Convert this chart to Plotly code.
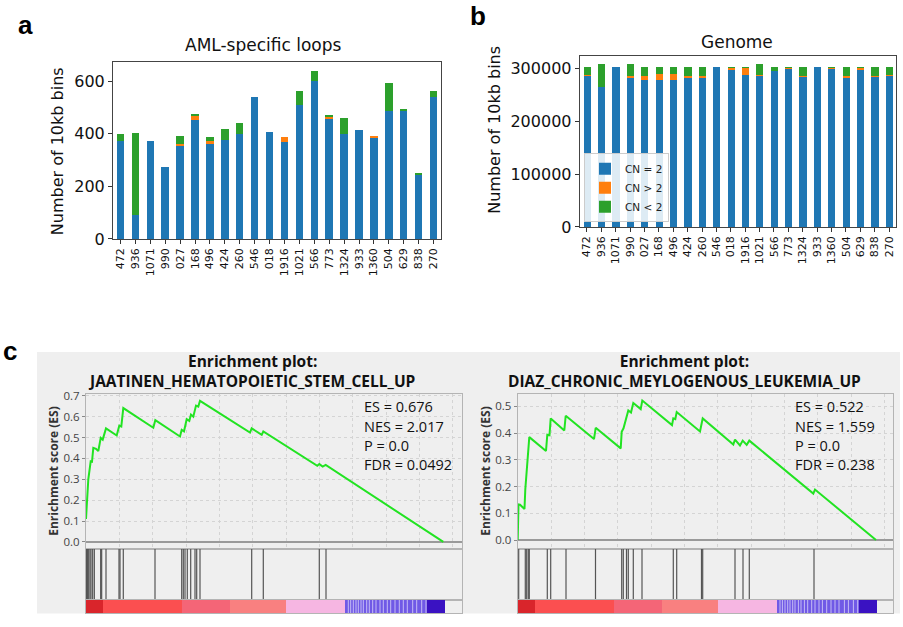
import plotly.graph_objects as go

W, H = 903, 627


def px(x):
    return x / W


def py(y):
    return 1 - y / H


# ---------------- data: panels a / b ----------------
samples = ["472", "936", "1071", "990", "027", "168", "496", "424", "260", "546", "018",
           "1916", "1021", "566", "773", "1324", "933", "1360", "504", "629", "838", "270"]

loops_cn_eq2 = [372, 93, 373, 276, 357, 455, 361, 378, 402, 542, 408, 369, 512, 600, 461, 400, 416, 386, 487, 488, 245, 541]
loops_cn_gt2 = [0, 0, 0, 0, 6, 12, 13, 0, 0, 0, 0, 20, 0, 0, 5, 0, 0, 5, 0, 0, 0, 0]
loops_cn_lt2 = [29, 313, 0, 0, 28, 11, 14, 41, 39, 0, 0, 0, 53, 40, 5, 61, 0, 0, 108, 4, 4, 22]

genome_cn_eq2 = [286500, 265600, 303000, 283400, 279000, 279000, 278000, 284000, 284000, 303000, 298800,
                 287700, 287000, 295000, 300600, 284700, 303000, 299400, 284000, 297000, 284700, 286500]
genome_cn_gt2 = [1000, 0, 0, 2600, 7500, 10600, 11600, 2500, 2500, 0, 3000,
                 14100, 600, 0, 1400, 2300, 0, 2400, 3000, 4500, 1800, 1000]
genome_cn_lt2 = [15500, 43000, 0, 22600, 16500, 13400, 13400, 16500, 16500, 0, 1200,
                 1200, 21000, 8000, 1000, 16000, 0, 1200, 16000, 1500, 16500, 15500]

series_names = ["CN = 2", "CN > 2", "CN < 2"]
series_colors = ["#1f77b4", "#ff7f0e", "#2ca02c"]

# ---------------- data: panel c (GSEA) ----------------
left_title = ["Enrichment plot:", "JAATINEN_HEMATOPOIETIC_STEM_CELL_UP"]
left_stats = ["ES = 0.676", "NES = 2.017", "P = 0.0", "FDR = 0.0492"]
left_es_rank = [0, 69, 141, 180, 219, 300, 369, 441, 501, 600, 921, 999, 1059, 1119, 2019, 2079,
                2820, 2871, 2940, 3021, 3099, 3150, 3219, 3300, 3369, 3420, 4920, 4971, 5271, 5319,
                6939, 6999, 7101, 7191, 10719]
left_es_val = [0.11, 0.30, 0.386, 0.384, 0.451, 0.446, 0.435, 0.498, 0.490, 0.544, 0.510, 0.557, 0.553,
               0.641, 0.547, 0.583, 0.505, 0.537, 0.530, 0.588, 0.580, 0.610, 0.600, 0.653, 0.648, 0.676,
               0.524, 0.544, 0.513, 0.529, 0.365, 0.373, 0.361, 0.369, 0.0]
left_hits = [15, 45, 80, 120, 150, 200, 250, 440, 470, 600, 990, 1020, 1119, 2070, 2871, 2919, 2970,
             3039, 3141, 3270, 3321, 3420, 4971, 5319, 6999, 7200]

right_title = ["Enrichment plot:", "DIAZ_CHRONIC_MEYLOGENOUS_LEUKEMIA_UP"]
right_stats = ["ES = 0.522", "NES = 1.559", "P = 0.0", "FDR = 0.238"]
right_es_rank = [0, 24, 69, 204, 228, 270, 318, 348, 849, 888, 954, 990, 1398, 1440, 2289, 2340, 3090,
                 3120, 3174, 3270, 3318, 3399, 3468, 3690, 3738, 4629, 4668, 4728, 4770, 5469, 5550,
                 6468, 6519, 6669, 6750, 6870, 6948, 8868, 8919, 10749]
right_es_val = [0.0, 0.133, 0.132, 0.116, 0.19, 0.26, 0.33, 0.385, 0.333, 0.394, 0.392, 0.455, 0.410,
                0.465, 0.378, 0.420, 0.343, 0.405, 0.418, 0.458, 0.485, 0.477, 0.513, 0.490, 0.522,
                0.430, 0.455, 0.452, 0.479, 0.406, 0.455, 0.357, 0.376, 0.354, 0.372, 0.356, 0.372,
                0.174, 0.189, 0.0]
right_hits = [30, 228, 270, 318, 348, 888, 990, 1449, 2334, 3120, 3168, 3264, 3318, 3468, 3729, 4668,
              4770, 5514, 5550, 6519, 6759, 6948, 8889]

# ranked-list metric colour strip (band edges in rank units, band colours, light separator ranks)
strip_edges = [0, 520, 2870, 4320, 6000, 7770, 10230, 10770]
strip_colors = ["#d9252b", "#fb4f50", "#f46577", "#f98080", "#f6b6e2", "#7059e6", "#3a12c2"]
strip_gaps = [7869, 7941, 8019, 8100, 8169, 8250, 8319, 8421, 8499, 8601, 8700, 8820, 8919, 9039,
              9141, 9270, 9399, 9519, 9639, 9801, 9921, 10071, 10200]

es_ticks = [0.0, 0.1, 0.2, 0.3, 0.4, 0.5, 0.6, 0.7]
es_ticktext = ["0.0", "0.1", "0.2", "0.3", "0.4", "0.5", "0.6", "0.7"]

# ---------------- figure ----------------
fig = go.Figure()
MPL = "DejaVu Sans"
GS = "Open Sans"

# panels a & b
for xa, ya, vals, show in [("x", "y", [loops_cn_eq2, loops_cn_gt2, loops_cn_lt2], False),
                           ("x2", "y2", [genome_cn_eq2, genome_cn_gt2, genome_cn_lt2], True)]:
    for name, col, v in zip(series_names, series_colors, vals):
        fig.add_trace(go.Bar(x=samples, y=v, name=name, marker=dict(color=col, line=dict(width=0)),
                             width=0.5, xaxis=xa, yaxis=ya, showlegend=show, legendgroup=name))


def add_gsea(n0, es_rank, es_val, hits):
    xe, ye = "x%d" % n0, "y%d" % n0
    xh, yh = "x%d" % (n0 + 1), "y%d" % (n0 + 1)
    xs, ys = "x%d" % (n0 + 2), "y%d" % (n0 + 2)
    fig.add_trace(go.Scatter(x=es_rank, y=es_val, mode="lines", line=dict(color="#22e322", width=2),
                             xaxis=xe, yaxis=ye, showlegend=False))
    hx, hy = [], []
    for h in hits:
        hx += [h, h, None]
        hy += [0, 1, None]
    fig.add_trace(go.Scatter(x=hx, y=hy, mode="lines", line=dict(color="#555555", width=1.2),
                             xaxis=xh, yaxis=yh, showlegend=False))
    centers = [(a + b) / 2 for a, b in zip(strip_edges[:-1], strip_edges[1:])]
    widths = [b - a for a, b in zip(strip_edges[:-1], strip_edges[1:])]
    fig.add_trace(go.Bar(x=centers, y=[1] * len(centers), width=widths, base=0,
                         marker=dict(color=strip_colors, line=dict(width=0)),
                         xaxis=xs, yaxis=ys, showlegend=False))
    gx, gy = [], []
    for g in strip_gaps:
        gx += [g, g, None]
        gy += [0, 1, None]
    fig.add_trace(go.Scatter(x=gx, y=gy, mode="lines", line=dict(color="rgba(255,255,255,0.75)", width=0.8),
                             xaxis=xs, yaxis=ys, showlegend=False))


add_gsea(3, left_es_rank, left_es_val, left_hits)
add_gsea(6, right_es_rank, right_es_val, right_hits)

layout = dict(
    width=W, height=H, margin=dict(l=0, r=0, t=0, b=0),
    paper_bgcolor="white", plot_bgcolor="white", barmode="stack", bargap=0,
    showlegend=True,
    legend=dict(x=px(584), y=py(222), xanchor="left", yanchor="bottom",
                bgcolor="rgba(255,255,255,0.85)", bordercolor="#cccccc", borderwidth=1,
                font=dict(family=MPL, size=10.5, color="#222"), tracegroupgap=0,
                itemwidth=30),
)

bar_common = dict(showline=True, mirror=True, linecolor="#444", linewidth=1, ticks="outside",
                  ticklen=4, tickcolor="#333", showgrid=False, zeroline=False)
layout["xaxis"] = dict(domain=[px(113), px(441)], range=[-0.5, 21.5], anchor="y", tickangle=-90,
                       tickfont=dict(family=MPL, size=11, color="#111"), **bar_common)
layout["yaxis"] = dict(domain=[py(239), py(57)], range=[0, 674], anchor="x", tickvals=[0, 200, 400, 600],
                       tickfont=dict(family=MPL, size=16, color="#111"), **bar_common)
layout["xaxis2"] = dict(domain=[px(579.7), px(896.3)], range=[-0.5, 21.5], anchor="y2", tickangle=-90,
                        tickfont=dict(family=MPL, size=11, color="#111"), **bar_common)
layout["yaxis2"] = dict(domain=[py(226.7), py(51)], range=[0, 324000], anchor="x2", dtick=100000,
                        tickformat="d", tickfont=dict(family=MPL, size=16, color="#111"), **bar_common)

frame = "#b4b4b4"


def gsea_axes(n0, x0, x1, xmax, ymin, ymax):
    xr = [0, xmax]
    layout["xaxis%d" % n0] = dict(domain=[px(x0), px(x1)], range=xr, anchor="y%d" % n0,
                                  showticklabels=False, ticks="", showgrid=True, gridcolor="#d4d4d4",
                                  griddash="dot", gridwidth=1, tick0=0, dtick=1000, zeroline=False,
                                  showline=True, mirror=True, linecolor=frame)
    layout["yaxis%d" % n0] = dict(domain=[py(557), py(398)], range=[ymin, ymax], anchor="x%d" % n0,
                                  tickvals=es_ticks, ticktext=es_ticktext, ticks="outside", ticklen=3,
                                  tickcolor="#888", tickfont=dict(family=GS, size=11.5, color="#444"),
                                  showgrid=True, gridcolor="#d4d4d4", griddash="dot", zeroline=True,
                                  zerolinecolor="#9a9a9a", zerolinewidth=1.5, showline=True, mirror=True,
                                  linecolor=frame)
    for k, (b, t) in ((1, (609.5, 557)), (2, (623, 609.5))):
        layout["xaxis%d" % (n0 + k)] = dict(domain=[px(x0), px(x1)], range=xr, anchor="y%d" % (n0 + k),
                                            showticklabels=False, ticks="", showgrid=False, zeroline=False,
                                            showline=True, mirror=True, linecolor=frame)
        layout["yaxis%d" % (n0 + k)] = dict(domain=[py(b), py(t)], range=[0, 1], anchor="x%d" % (n0 + k),
                                            showticklabels=False, ticks="", showgrid=False, zeroline=False,
                                            showline=True, mirror=True, linecolor=frame)


gsea_axes(3, 86, 462, 11280, -0.0327, 0.7093)
gsea_axes(6, 517.7, 893, 11259, -0.0328, 0.547)

ann = []


def txt(x, y, s, size, family, bold=False, angle=0, xanchor="center", color="#111"):
    ann.append(dict(x=px(x), y=py(y), xref="paper", yref="paper", text=("<b>%s</b>" % s) if bold else s,
                    showarrow=False, xanchor=xanchor, yanchor="middle", textangle=angle,
                    font=dict(family=family, size=size, color=color)))


# panel letters
txt(25, 20, "a", 26, "Liberation Sans", bold=True, color="black")
txt(478, 10, "b", 26, "Liberation Sans", bold=True, color="black")
txt(10, 354, "c", 26, "Liberation Sans", bold=True, color="black")
# bar panel titles
txt(263, 40, "AML-specific loops", 17, MPL)
txt(737, 37, "Genome", 17, MPL)
txt(57, 149, "Number of 10kb bins", 16, MPL, angle=-90)
txt(495, 127, "Number of 10kb bins", 16, MPL, angle=-90)
# GSEA texts (two-line titles as one text block)
txt(252, 375, "<br>".join(left_title), 15.5, GS, bold=True)
txt(684, 375, "<br>".join(right_title), 15.5, GS, bold=True)
txt(54, 477, "Enrichment score (ES)", 12, GS, bold=True, angle=-90, color="#333")
txt(486, 477, "Enrichment score (ES)", 12, GS, bold=True, angle=-90, color="#333")
for i, s in enumerate(left_stats):
    txt(361.5, 411 + 20 * i, s, 14.5, GS, xanchor="left")
for i, s in enumerate(right_stats):
    txt(793.3, 411 + 20 * i, s, 14.5, GS, xanchor="left")
layout["annotations"] = ann

layout["shapes"] = [dict(type="rect", xref="paper", yref="paper", x0=px(37), x1=px(900), y0=py(623.5),
                         y1=py(355), fillcolor="#efefef", line=dict(width=0), layer="below")]

fig.update_layout(**layout)
fig.write_html("out.html", config={"displayModeBar": False},
               post_script="document.body.style.margin='0px';")
